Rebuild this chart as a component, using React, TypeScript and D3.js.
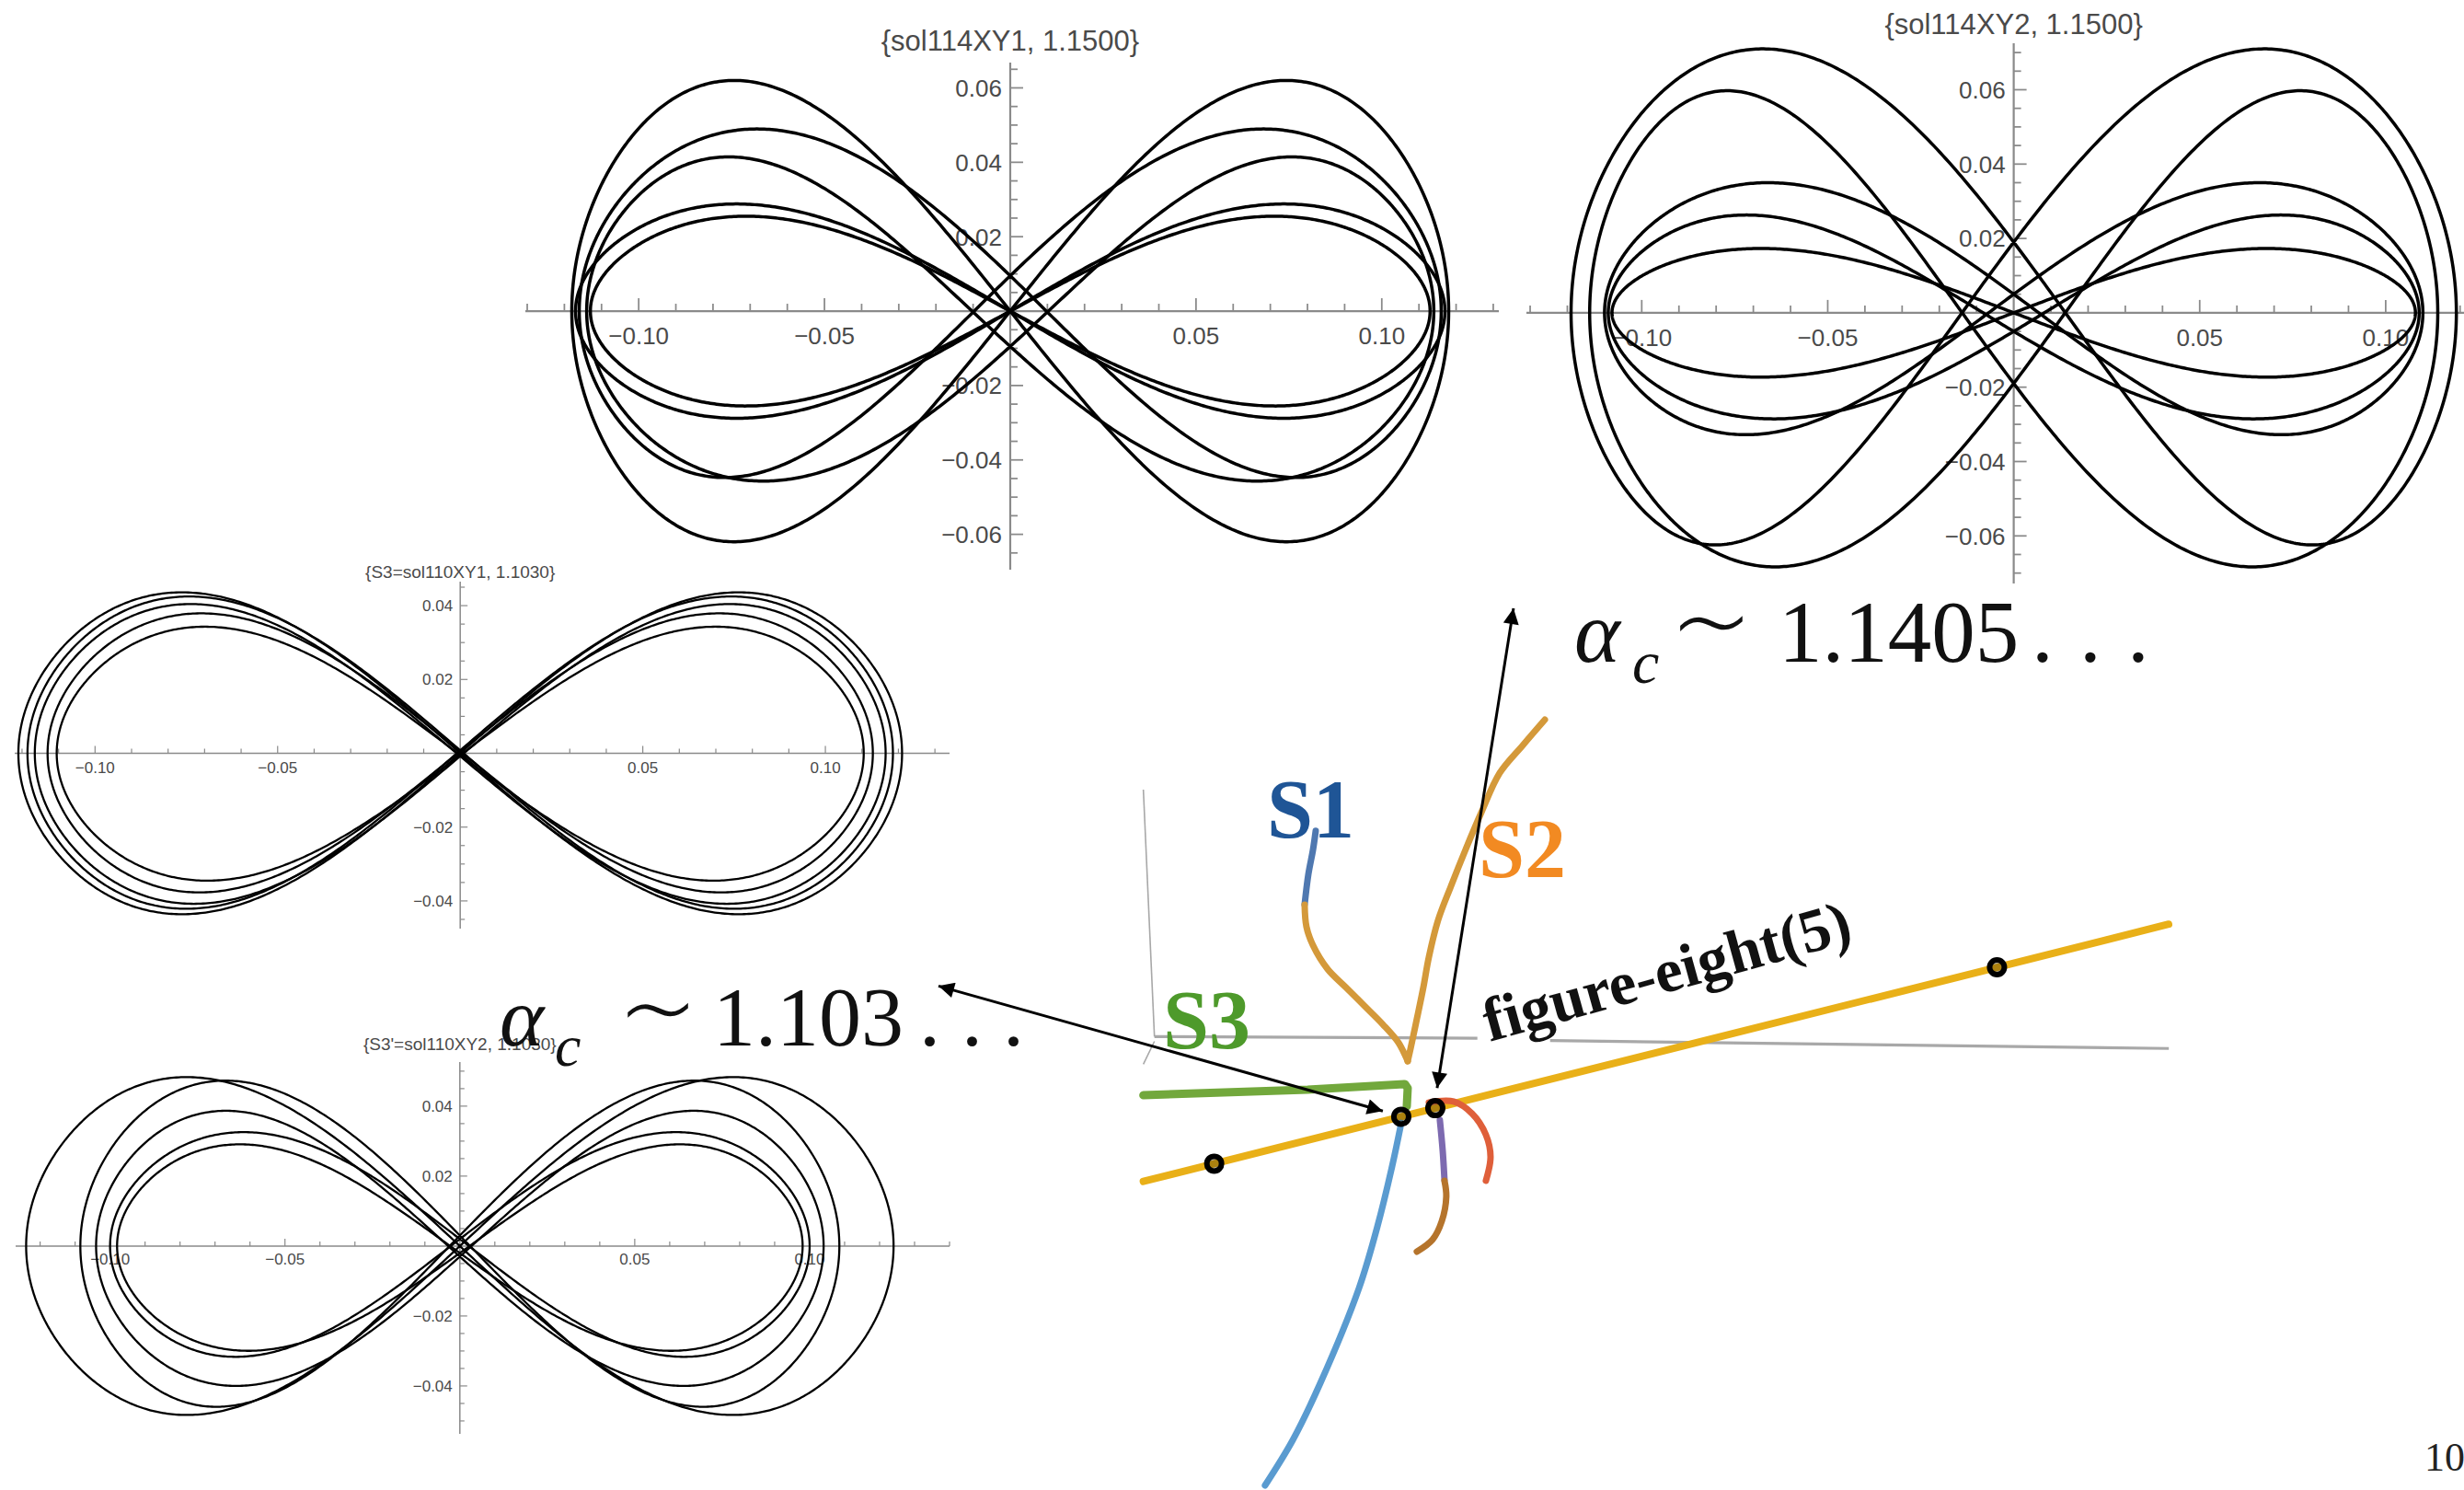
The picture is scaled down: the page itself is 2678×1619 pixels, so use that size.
import React from 'react';
import * as d3 from 'd3';

const W = 2678;
const H = 1619;

// Orbit loops of each trajectory: half-width (x), lobe height (y), lift of the central crossing (y)
const sol114XY1Width = [0.118, 0.116, 0.114, 0.117, 0.113];
const sol114XY1Height = [0.062, 0.0466, 0.0433, 0.0288, 0.0255];
const sol114XY1Shift = [0.0, 0.0095, -0.0095, 0.0, 0.0];

const sol114XY2Width = [0.119, 0.114, 0.11, 0.109, 0.108];
const sol114XY2Height = [0.066, 0.0633, 0.0338, 0.0273, 0.0173];
const sol114XY2Shift = [0.019, -0.019, 0.005, -0.005, 0.0];

const sol110XY1Width = [0.121, 0.1185, 0.1165, 0.113, 0.1105];
const sol110XY1Height = [0.0436, 0.0423, 0.0406, 0.0378, 0.0344];
const sol110XY1Shift = [0.0, 0.0008, -0.0008, 0.0005, -0.0005];

const sol110XY2Width = [0.124, 0.1085, 0.104, 0.1, 0.098];
const sol110XY2Height = [0.0483, 0.0466, 0.0393, 0.0321, 0.0295];
const sol110XY2Shift = [0.0, 0.003, -0.003, 0.002, -0.002];

// Axis tick labels
const xTickLabels = [-0.1, -0.05, 0.05, 0.1];
const yTickLabelsWide = [-0.06, -0.04, -0.02, 0.02, 0.04, 0.06];
const yTickLabelsNarrow = [-0.04, -0.02, 0.02, 0.04];

// Bifurcation diagram: [alpha, branch coordinate]
const figureEightBranch: [number, number][] = [[0.819, 39.1], [1.948, 71.6]];
const bifurcationAlpha = [0.897, 1.103, 1.1405, 1.759];
const bifurcationLevel = [41.35, 47.28, 48.36, 66.16];
const s1Start: [number, number][] = [[1.0088, 83.4], [1.0058, 81.0], [1.0007, 77.9], [0.9966, 74.07]];
const s1Descent: [number, number][] = [
  [0.9966, 74.07], [0.9986, 71.28], [1.0057, 68.95], [1.0219, 65.93], [1.0422, 63.6],
  [1.0625, 61.28], [1.0827, 58.95], [1.1, 56.63], [1.1101, 54.3],
];
const s2Branch: [number, number][] = [
  [1.1101, 54.3], [1.1131, 55.81], [1.1202, 59.65], [1.1273, 63.6], [1.1334, 67.44],
  [1.1435, 72.09], [1.1577, 76.4], [1.1739, 81.05], [1.1911, 85.7], [1.2114, 90.7],
  [1.2367, 94.19], [1.2611, 97.44],
];
const s3Branch: [number, number][] = [[0.819, 50.0], [1.0, 50.7], [1.107, 51.4], [1.1101, 50.9], [1.1091, 48.6]];
const lowerBlueBranch: [number, number][] = [
  [1.103, 46.5], [1.0929, 41.0], [1.0767, 33.4], [1.0564, 25.6], [1.0138, 13.6], [0.9834, 6.4], [0.953, 0.7],
];
const purpleBranch: [number, number][] = [[1.1455, 46.86], [1.1486, 43.02], [1.1506, 39.3]];
const brownBranch: [number, number][] = [[1.1506, 39.19], [1.1526, 37.21], [1.1476, 34.07], [1.1374, 31.74], [1.1202, 30.23]];
const redBranch: [number, number][] = [
  [1.1334, 49.07], [1.1607, 49.19], [1.181, 47.67], [1.1962, 45.0], [1.2013, 42.21], [1.1962, 39.19],
];
const diagramFrame: [number, number][][] = [
  [[0.819, 88.6], [0.8312, 57.4]],
  [[0.8312, 56.8], [0.819, 53.9]],
  [[0.8312, 57.4], [1.1868, 57.2]],
  [[1.2669, 56.9], [1.9482, 55.9]],
];
const arrowLow: [number, number][] = [[0.5934, 63.8], [1.0827, 48.0]];
const arrowHigh: [number, number][] = [[1.2266, 111.5], [1.1425, 50.9]];

// Loop profile: x = A sin t, y = b (sin 2t + K sin 4t) + c cos^6 t
const K4 = 0.113;
const PEAK = d3.max(d3.range(0, 2001).map((i) => {
  const t = (i / 2000) * Math.PI;
  return Math.sin(2 * t) + K4 * Math.sin(4 * t);
})) as number;

function loopPath(xs: any, ys: any, A: number, B: number, c: number) {
  const b = B / PEAK;
  const pts: [number, number][] = d3.range(0, 901).map((i) => {
    const t = (i / 900) * 2 * Math.PI;
    const lift = c * Math.pow(Math.cos(t), 6);
    return [xs(A * Math.sin(t)), ys(b * (Math.sin(2 * t) + K4 * Math.sin(4 * t)) + lift)];
  });
  return d3.line()(pts) as string;
}

const fmt = (v: number) => d3.format('.2f')(v).replace('-', '\u2212');

type Panel = {
  title: string;
  titleBaseline: number;
  xDomain: [number, number];
  xRange: [number, number];
  yDomain: [number, number];
  yRange: [number, number];
  yLabels: number[];
  widths: number[];
  heights: number[];
  shifts: number[];
  titleSize: number;
  tickSize: number;
  majorLen: number;
  minorLen: number;
  axisW: number;
  curveW: number;
  xLabelDy: number;
  yLabelDx: number;
};

const panels: Panel[] = [
  {
    title: '{sol114XY1, 1.1500}', titleBaseline: 55,
    xDomain: [-0.1305, 0.1315], xRange: [571, 1629], yDomain: [-0.0695, 0.0668], yRange: [619, 68],
    yLabels: yTickLabelsWide, widths: sol114XY1Width, heights: sol114XY1Height, shifts: sol114XY1Shift,
    titleSize: 31, tickSize: 26, majorLen: 14, minorLen: 8, axisW: 2.2, curveW: 3.5, xLabelDy: 36, yLabelDx: 9,
  },
  {
    title: '{sol114XY2, 1.1500}', titleBaseline: 37,
    xDomain: [-0.131, 0.1213], xRange: [1659, 2679], yDomain: [-0.0728, 0.0725], yRange: [634, 47],
    yLabels: yTickLabelsWide, widths: sol114XY2Width, heights: sol114XY2Height, shifts: sol114XY2Shift,
    titleSize: 31, tickSize: 26, majorLen: 14, minorLen: 8, axisW: 2.2, curveW: 3.5, xLabelDy: 36, yLabelDx: 9,
  },
  {
    title: '{S3=sol110XY1, 1.1030}', titleBaseline: 628,
    xDomain: [-0.122, 0.134], xRange: [16, 1032], yDomain: [-0.0475, 0.0465], yRange: [1009, 632],
    yLabels: yTickLabelsNarrow, widths: sol110XY1Width, heights: sol110XY1Height, shifts: sol110XY1Shift,
    titleSize: 19, tickSize: 17, majorLen: 8, minorLen: 5, axisW: 1.5, curveW: 2.3, xLabelDy: 22, yLabelDx: 8,
  },
  {
    title: "{S3'=sol110XY2, 1.1030}", titleBaseline: 1141,
    xDomain: [-0.127, 0.14], xRange: [17, 1032], yDomain: [-0.0537, 0.0526], yRange: [1558, 1154],
    yLabels: yTickLabelsNarrow, widths: sol110XY2Width, heights: sol110XY2Height, shifts: sol110XY2Shift,
    titleSize: 19, tickSize: 17, majorLen: 8, minorLen: 5, axisW: 1.5, curveW: 2.3, xLabelDy: 20, yLabelDx: 8,
  },
];

const AXIS = '#8a8a8a';
const LABEL = '#4a4a4a';
const SANS = '"Liberation Sans", Arial, Helvetica, sans-serif';
const SERIF = '"Liberation Serif", "Times New Roman", "DejaVu Serif", serif';
const SYMBOL = '"DejaVu Sans", sans-serif';

function OrbitPanel({ p }: { p: Panel }) {
  const xs = d3.scaleLinear().domain(p.xDomain).range(p.xRange);
  const ys = d3.scaleLinear().domain(p.yDomain).range(p.yRange);
  const x0 = xs(0);
  const y0 = ys(0);
  const xMinor = d3.range(Math.ceil(p.xDomain[0] * 100 - 1e-6), Math.floor(p.xDomain[1] * 100 + 1e-6) + 1)
    .map((i) => i / 100).filter((v) => Math.abs(v) > 1e-9);
  const yMinor = d3.range(Math.ceil(p.yDomain[0] * 200 - 1e-6), Math.floor(p.yDomain[1] * 200 + 1e-6) + 1)
    .map((i) => i / 200).filter((v) => Math.abs(v) > 1e-9);
  const isMajorX = (v: number) => Math.abs(Math.round(v * 20) - v * 20) < 1e-6;
  const isMajorY = (v: number) => Math.abs(Math.round(v * 50) - v * 50) < 1e-6;
  return (
    <g>
      <line x1={p.xRange[0]} x2={p.xRange[1]} y1={y0} y2={y0} stroke={AXIS} strokeWidth={p.axisW} />
      <line x1={x0} x2={x0} y1={p.yRange[0]} y2={p.yRange[1]} stroke={AXIS} strokeWidth={p.axisW} />
      {xMinor.map((v, i) => (
        <line key={'xt' + i} x1={xs(v)} x2={xs(v)} y1={y0} y2={y0 - (isMajorX(v) ? p.majorLen : p.minorLen)}
          stroke={AXIS} strokeWidth={p.axisW * 0.8} />
      ))}
      {yMinor.map((v, i) => (
        <line key={'yt' + i} x1={x0} x2={x0 + (isMajorY(v) ? p.majorLen : p.minorLen)} y1={ys(v)} y2={ys(v)}
          stroke={AXIS} strokeWidth={p.axisW * 0.8} />
      ))}
      {xTickLabels.map((v, i) => (
        <text key={'xl' + i} x={xs(v)} y={y0 + p.xLabelDy} fontSize={p.tickSize} fontFamily={SANS}
          fill={LABEL} textAnchor="middle">{fmt(v)}</text>
      ))}
      {p.yLabels.map((v, i) => (
        <text key={'yl' + i} x={x0 - p.yLabelDx} y={ys(v) + p.tickSize * 0.36} fontSize={p.tickSize}
          fontFamily={SANS} fill={LABEL} textAnchor="end">{fmt(v)}</text>
      ))}
      <text x={x0} y={p.titleBaseline} fontSize={p.titleSize} fontFamily={SANS} fill={LABEL}
        textAnchor="middle">{p.title}</text>
      {p.widths.map((A, i) => (
        <path key={'loop' + i} d={loopPath(xs, ys, A, p.heights[i], p.shifts[i])} fill="none"
          stroke="#000" strokeWidth={p.curveW} strokeLinejoin="round" />
      ))}
    </g>
  );
}

// Diagram frame: alpha horizontally, branch coordinate vertically
const diagX = d3.scaleLinear().domain([1.0, 2.0]).range([1421.3, 2408.3]);
const diagY = d3.scaleLinear().domain([0, 100]).range([1620, 760]);
const branchLine = d3.line<[number, number]>().x((d) => diagX(d[0])).y((d) => diagY(d[1]));
const smoothLine = d3.line<[number, number]>().x((d) => diagX(d[0])).y((d) => diagY(d[1])).curve(d3.curveCatmullRom);

function Diagram() {
  const branch = (pts: [number, number][], color: string, w: number, smooth = true) => (
    <path d={(smooth ? smoothLine : branchLine)(pts) as string} fill="none" stroke={color} strokeWidth={w}
      strokeLinecap="round" strokeLinejoin="round" />
  );
  return (
    <g>
      {diagramFrame.map((seg, i) => (
        <path key={'fr' + i} d={branchLine(seg) as string} stroke="#a8a8a8" strokeWidth={i === 0 || i === 1 ? 1.6 : 3.2} fill="none" />
      ))}
      {branch(s3Branch, '#72a83c', 9, false)}
      {branch(s1Start, '#4f78b0', 7)}
      {branch(s1Descent, '#d4993a', 7)}
      {branch(s2Branch, '#d4993a', 7)}
      {branch(figureEightBranch, '#e9b018', 8, false)}
      {branch(lowerBlueBranch, '#5a9bd0', 7)}
      {branch(purpleBranch, '#7d6ab0', 7)}
      {branch(brownBranch, '#b5742c', 7)}
      {branch(redBranch, '#df5f3a', 7)}
      {bifurcationAlpha.map((a, i) => (
        <circle key={'pt' + i} cx={diagX(a)} cy={diagY(bifurcationLevel[i])} r={8} fill="#3a2a00" fillOpacity={0.35}
          stroke="#000" strokeWidth={6} />
      ))}
      {[arrowLow, arrowHigh].map((seg, i) => (
        <path key={'ar' + i} d={branchLine(seg) as string} stroke="#000" strokeWidth={3} fill="none"
          markerStart="url(#head)" markerEnd="url(#head)" />
      ))}
    </g>
  );
}

export default function App() {
  return (
    <svg width={W} height={H} viewBox={`0 0 ${W} ${H}`} style={{ position: 'absolute', left: 0, top: 0, background: '#fff' }}>
      <defs>
        <marker id="head" viewBox="0 0 10 10" refX={10} refY={5} markerWidth={26} markerHeight={17}
          markerUnits="userSpaceOnUse" orient="auto-start-reverse">
          <path d="M0,0 L10,5 L0,10 z" fill="#000" />
        </marker>
      </defs>
      <rect width={W} height={H} fill="#fff" />
      {panels.map((p, i) => <OrbitPanel key={i} p={p} />)}
      <Diagram />

      <text x={1377} y={910} fontFamily={SERIF} fontWeight="bold" fontSize={90} fill="#1f5596">S1</text>
      <text x={1607} y={953} fontFamily={SERIF} fontWeight="bold" fontSize={90} fill="#f28a22">S2</text>
      <text x={1264} y={1139} fontFamily={SERIF} fontWeight="bold" fontSize={90} fill="#4e9a2b">S3</text>
      <text x={1619} y={1132} fontFamily={SERIF} fontWeight="bold" fontSize={67} fill="#111"
        transform="rotate(-15.5 1619 1132)">figure-eight(5)</text>

      <g fontFamily={SERIF} fill="#111">
        <text x={1711} y={719} fontSize={95} fontStyle="italic">α</text>
        <text x={1774} y={742} fontSize={66} fontStyle="italic">c</text>
        <text transform="translate(1860 722) scale(1.45 1.3)" fontSize={98} fontFamily={SYMBOL} fontWeight={200}
          textAnchor="middle">∼</text>
        <text x={1933} y={719} fontSize={95}>1.1405</text>
        {[2220, 2272, 2324].map((cx, i) => <text key={'d1' + i} x={cx - 12} y={719} fontSize={95}>.</text>)}

        <text x={543} y={1136} fontSize={92} fontStyle="italic">α</text>
        <text x={603} y={1158} fontSize={64} fontStyle="italic">c</text>
        <text transform="translate(715 1141) scale(1.45 1.3)" fontSize={95} fontFamily={SYMBOL} fontWeight={200}
          textAnchor="middle">∼</text>
        <text x={775} y={1136} fontSize={92}>1.103</text>
        {[1010, 1056, 1101].map((cx, i) => <text key={'d2' + i} x={cx - 11} y={1136} fontSize={92}>.</text>)}
      </g>

      <text x={2635} y={1598} fontFamily={SERIF} fontSize={44} fill="#222">10</text>
    </svg>
  );
}
